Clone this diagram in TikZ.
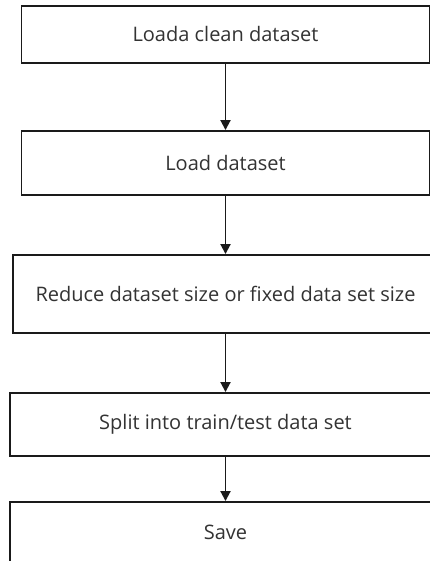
\documentclass[tikz,border=0pt]{standalone}
\usepackage{fontspec}
\setmainfont{Open Sans}
\usetikzlibrary{arrows.meta}
\definecolor{edge}{HTML}{1A1A1A}
\definecolor{ink}{HTML}{333333}
\tikzset{
  stepbox/.style={draw=edge, line width=1.9pt, fill=white, inner sep=0pt,
    text=ink, font=\fontsize{20}{24}\selectfont, anchor=center},
  flow/.style={draw=edge, line width=1.9pt,
    -{Triangle[width=10pt,length=10pt]}, shorten >=0pt}
}
\begin{document}
\begin{tikzpicture}[x=1pt,y=-1pt]
  \useasboundingbox (0,0) rectangle (430,561);
  \clip (0,0) rectangle (430,561);
  \node[stepbox, minimum width=408pt, minimum height=57pt] (b1) at (225.5,34.5) {Loada clean dataset};
  \node[stepbox, minimum width=408pt, minimum height=64pt] (b2) at (225.5,163) {Load dataset};
  \node[stepbox, minimum width=425pt, minimum height=78pt] (b3) at (225.5,294) {Reduce dataset size or fixed data set size};
  \node[stepbox, minimum width=431pt, minimum height=63pt] (b4) at (225.5,424.5) {Split into train/test data set};
  \node[stepbox, minimum width=431pt, minimum height=60pt] (b5) at (225.5,532) {Save};
  \draw[flow] (b1) -- (b2);
  \draw[flow] (b2) -- (b3);
  \draw[flow] (b3) -- (b4);
  \draw[flow] (b4) -- (b5);
\end{tikzpicture}
\end{document}
